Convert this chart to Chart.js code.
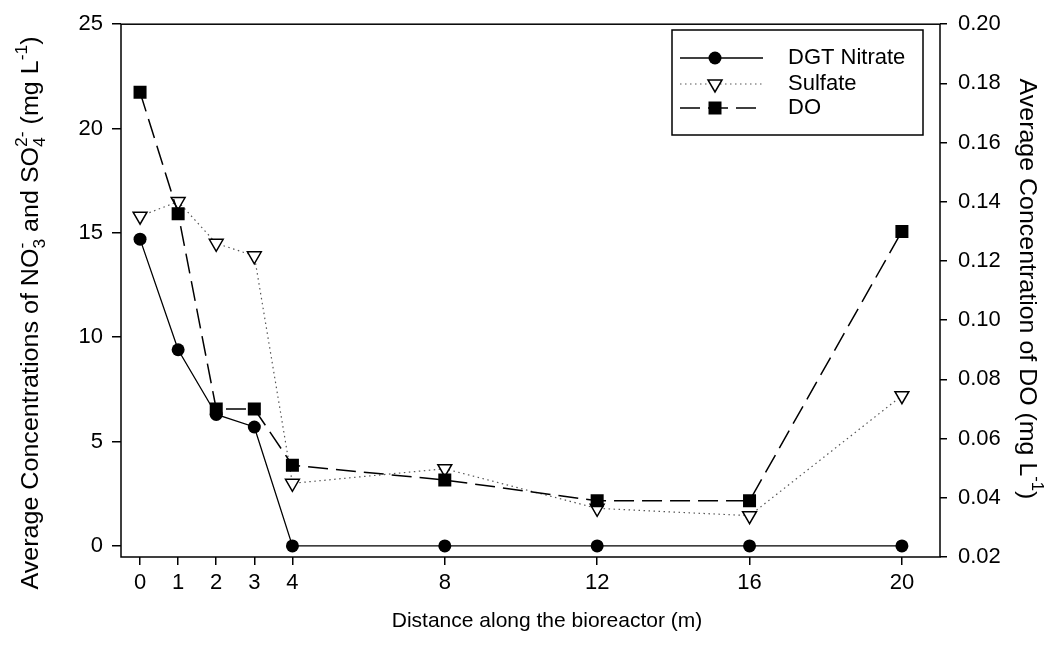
<!DOCTYPE html>
<html>
<head>
<meta charset="utf-8">
<script src="https://cdn.jsdelivr.net/npm/chart.js@4.4.0/dist/chart.umd.min.js"></script>
<style>
html, body { margin: 0; padding: 0; background: #fff; }
#wrap { position: relative; width: 1049px; height: 646px; }
</style>
</head>
<body>
<div id="wrap"><canvas id="chart"></canvas></div>
<script>
// values
const distance = [0, 1, 2, 3, 4, 8, 12, 16, 20];
const dgtNitrate = [14.7, 9.4, 6.3, 5.7, 0, 0, 0, 0, 0];
const sulfate = [15.8, 16.5, 14.5, 13.9, 3.0, 3.7, 1.8, 1.45, 7.2];
const dissolvedO2 = [0.177, 0.136, 0.070, 0.070, 0.051, 0.046, 0.039, 0.039, 0.130];

const xTicks = [0, 1, 2, 3, 4, 8, 12, 16, 20];
const leftTicks = [0, 5, 10, 15, 20, 25];
const rightTicks = [0.02, 0.04, 0.06, 0.08, 0.10, 0.12, 0.14, 0.16, 0.18, 0.20];

const seriesNames = ['DGT Nitrate', 'Sulfate', 'DO'];

const FONT = '"Liberation Sans", Arial, sans-serif';
const FS = 22;

const toPoints = (vals) => distance.map((d, i) => ({ x: d, y: vals[i] }));

// text with subscripts / superscripts, drawn centred on (cx, cy)
// stretch > 1 makes the text run a bit longer (the reference looks slightly stretched)
function drawRich(ctx, parts, cx, cy, rot, size, stretch = 1) {
    const small = Math.round(size * 0.68);
    ctx.save();
    ctx.translate(cx, cy);
    ctx.rotate(rot);
    ctx.scale(stretch, 1);
    ctx.fillStyle = '#000';
    ctx.textBaseline = 'alphabetic';
    ctx.textAlign = 'left';
    let total = 0;
    const widths = parts.map(p => {
        let w;
        if (typeof p === 'string') {
            ctx.font = size + 'px ' + FONT;
            w = ctx.measureText(p).width;
        } else {
            ctx.font = small + 'px ' + FONT;
            w = Math.max(p.sub ? ctx.measureText(p.sub).width : 0, p.sup ? ctx.measureText(p.sup).width : 0);
        }
        total += w;
        return w;
    });
    let x = -total / 2;
    const base = size * 0.36;
    parts.forEach((p, i) => {
        if (typeof p === 'string') {
            ctx.font = size + 'px ' + FONT;
            ctx.fillText(p, x, base);
        } else {
            ctx.font = small + 'px ' + FONT;
            if (p.sub) ctx.fillText(p.sub, x, base + size * 0.28);
            if (p.sup) ctx.fillText(p.sup, x, base - size * 0.5);
        }
        x += widths[i];
    });
    ctx.restore();
}

function marker(ctx, style, x, y) {
    ctx.save();
    ctx.fillStyle = '#000';
    ctx.strokeStyle = '#000';
    ctx.setLineDash([]);
    ctx.beginPath();
    if (style === 'circle') {
        ctx.arc(x, y, 6.5, 0, Math.PI * 2);
        ctx.fill();
    } else if (style === 'rect') {
        ctx.rect(x - 6.5, y - 6.5, 13, 13);
        ctx.fill();
    } else {
        ctx.moveTo(x - 7, y - 4);
        ctx.lineTo(x + 7, y - 4);
        ctx.lineTo(x, y + 8);
        ctx.closePath();
        ctx.fillStyle = '#fff';
        ctx.fill();
        ctx.lineWidth = 1.5;
        ctx.stroke();
    }
    ctx.restore();
}

const decorPlugin = {
    id: 'decor',
    afterDraw(chart) {
        const ctx = chart.ctx;
        const a = chart.chartArea;
        ctx.save();
        // frame
        ctx.strokeStyle = '#000';
        ctx.lineWidth = 1.5;
        ctx.strokeRect(a.left, a.top, a.right - a.left, a.bottom - a.top);

        // legend box
        const bx = 672, by = 30, bw = 923 - 672, bh = 105;
        ctx.fillStyle = '#fff';
        ctx.fillRect(bx, by, bw, bh);
        ctx.lineWidth = 1.5;
        ctx.strokeRect(bx, by, bw, bh);
        const rows = [58, 84, 108];
        const styles = [
            { dash: [], color: '#000', width: 1.3, pt: 'circle' },
            { dash: [1.5, 3.5], color: '#555', width: 1.2, pt: 'triangle' },
            { dash: [20, 8], color: '#000', width: 1.5, pt: 'rect' }
        ];
        rows.forEach((ry, i) => {
            const s = styles[i];
            ctx.save();
            ctx.strokeStyle = s.color;
            ctx.lineWidth = s.width;
            ctx.setLineDash(s.dash);
            ctx.beginPath();
            ctx.moveTo(680, ry);
            ctx.lineTo(763, ry);
            ctx.stroke();
            ctx.restore();
            marker(ctx, s.pt, 715, ry);
            ctx.fillStyle = '#000';
            ctx.font = FS + 'px ' + FONT;
            ctx.textBaseline = 'middle';
            ctx.textAlign = 'left';
            ctx.fillText(seriesNames[i], 788, ry);
        });

        // axis titles
        drawRich(ctx, ['Distance along the bioreactor (m)'], 547, 619, 0, 21);
        drawRich(ctx, ['Average Concentrations of NO', { sub: '3', sup: '-' }, ' and SO', { sub: '4', sup: '2-' },
            ' (mg L', { sup: '-1' }, ')'], 30, 313, -Math.PI / 2, 23, 1.09);
        drawRich(ctx, ['Average Concentration of DO (mg L', { sup: '-1' }, ')'], 1029, 289, Math.PI / 2, 24, 1.04);
        ctx.restore();
    }
};

const tickFont = { family: FONT, size: FS };

new Chart(document.getElementById('chart'), {
    type: 'line',
    data: {
        datasets: [
            {
                label: seriesNames[0],
                data: toPoints(dgtNitrate),
                yAxisID: 'y',
                borderColor: '#000',
                borderWidth: 1.3,
                pointStyle: 'circle',
                pointRadius: 6.5,
                pointBackgroundColor: '#000',
                pointBorderColor: '#000',
                pointBorderWidth: 0,
                order: 2
            },
            {
                label: seriesNames[1],
                data: toPoints(sulfate),
                yAxisID: 'y',
                borderColor: '#555',
                borderWidth: 1.2,
                borderDash: [1.5, 3.5],
                pointStyle: 'triangle',
                pointRotation: 180,
                pointRadius: 8,
                pointBackgroundColor: '#fff',
                pointBorderColor: '#000',
                pointBorderWidth: 1.5,
                order: 1
            },
            {
                label: seriesNames[2],
                data: toPoints(dissolvedO2),
                yAxisID: 'y2',
                borderColor: '#000',
                borderWidth: 1.5,
                borderDash: [20, 8],
                pointStyle: 'rect',
                pointRadius: 9.2,
                pointBackgroundColor: '#000',
                pointBorderColor: '#000',
                pointBorderWidth: 0,
                order: 0
            }
        ]
    },
    options: {
        responsive: true,
        maintainAspectRatio: false,
        animation: false,
        layout: { padding: { top: 23, left: 0, right: 0, bottom: 0 } },
        plugins: {
            legend: { display: false },
            tooltip: { enabled: false }
        },
        elements: { line: { tension: 0, fill: false } },
        scales: {
            x: {
                type: 'linear',
                min: -0.5,
                max: 21,
                afterBuildTicks: s => { s.ticks = xTicks.map(v => ({ value: v })); },
                afterFit: s => { s.height = 89; },
                ticks: { font: tickFont, color: '#000', padding: 5, maxRotation: 0, autoSkip: false },
                grid: { drawOnChartArea: false, drawTicks: true, tickLength: 8, color: '#000', lineWidth: 1.5 },
                border: { display: false }
            },
            y: {
                type: 'linear',
                position: 'left',
                min: -0.53,
                max: 25,
                afterBuildTicks: s => { s.ticks = leftTicks.map(v => ({ value: v })); },
                afterFit: s => { s.width = 121; },
                ticks: { font: tickFont, color: '#000', padding: 9 },
                grid: { drawOnChartArea: false, drawTicks: true, tickLength: 9, color: '#000', lineWidth: 1.5 },
                border: { display: false }
            },
            y2: {
                type: 'linear',
                position: 'right',
                min: 0.02,
                max: 0.20,
                afterBuildTicks: s => { s.ticks = rightTicks.map(v => ({ value: v })); },
                afterFit: s => { s.width = 109; },
                ticks: { font: tickFont, color: '#000', padding: 11, callback: v => v.toFixed(2) },
                grid: { drawOnChartArea: false, drawTicks: true, tickLength: 7, color: '#000', lineWidth: 1.5 },
                border: { display: false }
            }
        }
    },
    plugins: [decorPlugin]
});
</script>
</body>
</html>
